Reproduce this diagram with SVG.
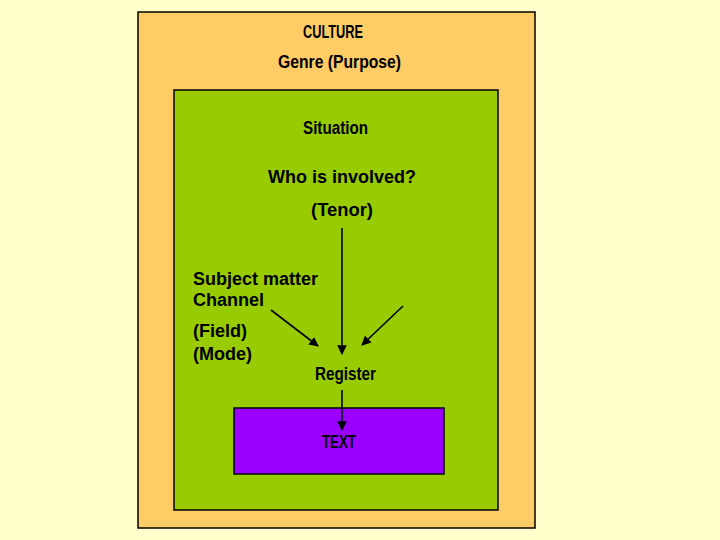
<svg xmlns="http://www.w3.org/2000/svg" width="720" height="540" viewBox="0 0 720 540">
<defs>
<style>
.box{stroke:#000;stroke-width:1.5}
.n{font-family:"Liberation Sans",Arial,sans-serif;font-weight:bold;font-size:18px;fill:#000}
.a{font-family:"Liberation Sans",Arial,sans-serif;font-weight:bold;font-size:18px;fill:#000}
.c{stroke:#000;stroke-width:1.6;fill:none;marker-end:url(#ah)}
</style>
<marker id="ah" viewBox="0 0 10 10" refX="9" refY="5" markerWidth="6" markerHeight="6" orient="auto" markerUnits="strokeWidth">
<path d="M0,0 L10,5 L0,10 z" fill="#000"/>
</marker>
</defs>
<rect width="720" height="540" fill="#FFFFCC"/>
<g id="culture">
<rect class="box" x="138" y="12" width="397" height="516" fill="#FFCC66"/>
<text class="n" x="303" y="38" textLength="60" lengthAdjust="spacingAndGlyphs">CULTURE</text>
<text class="n" x="278" y="68" textLength="123" lengthAdjust="spacingAndGlyphs">Genre (Purpose)</text>
</g>
<g id="situation">
<rect class="box" x="174" y="90" width="324" height="420" fill="#99CC00"/>
<text class="n" x="303" y="134" textLength="65" lengthAdjust="spacingAndGlyphs">Situation</text>
<text class="a" x="268" y="183" textLength="148" lengthAdjust="spacingAndGlyphs">Who is involved?</text>
<text class="a" x="311" y="216" textLength="62" lengthAdjust="spacingAndGlyphs">(Tenor)</text>
<text class="a" x="193" y="285" textLength="125" lengthAdjust="spacingAndGlyphs">Subject matter</text>
<text class="a" x="193" y="306">Channel</text>
<text class="a" x="193" y="337">(Field)</text>
<text class="a" x="193" y="360">(Mode)</text>
</g>
<g id="register">
<text class="n" x="315" y="380" textLength="61" lengthAdjust="spacingAndGlyphs">Register</text>
</g>
<g id="text">
<rect class="box" x="234" y="408" width="210" height="66" fill="#9900FF"/>
<text class="n" x="322" y="448" font-size="22" fill="#220044" textLength="34" lengthAdjust="spacingAndGlyphs">TEXT</text>
</g>
<g id="connectors">
<line class="c" x1="342" y1="228" x2="342" y2="354"/>
<line class="c" x1="271" y1="310" x2="318" y2="346"/>
<line class="c" x1="403" y1="306" x2="362" y2="345"/>
<line class="c" x1="342" y1="390" x2="342" y2="430"/>
</g>
</svg>
